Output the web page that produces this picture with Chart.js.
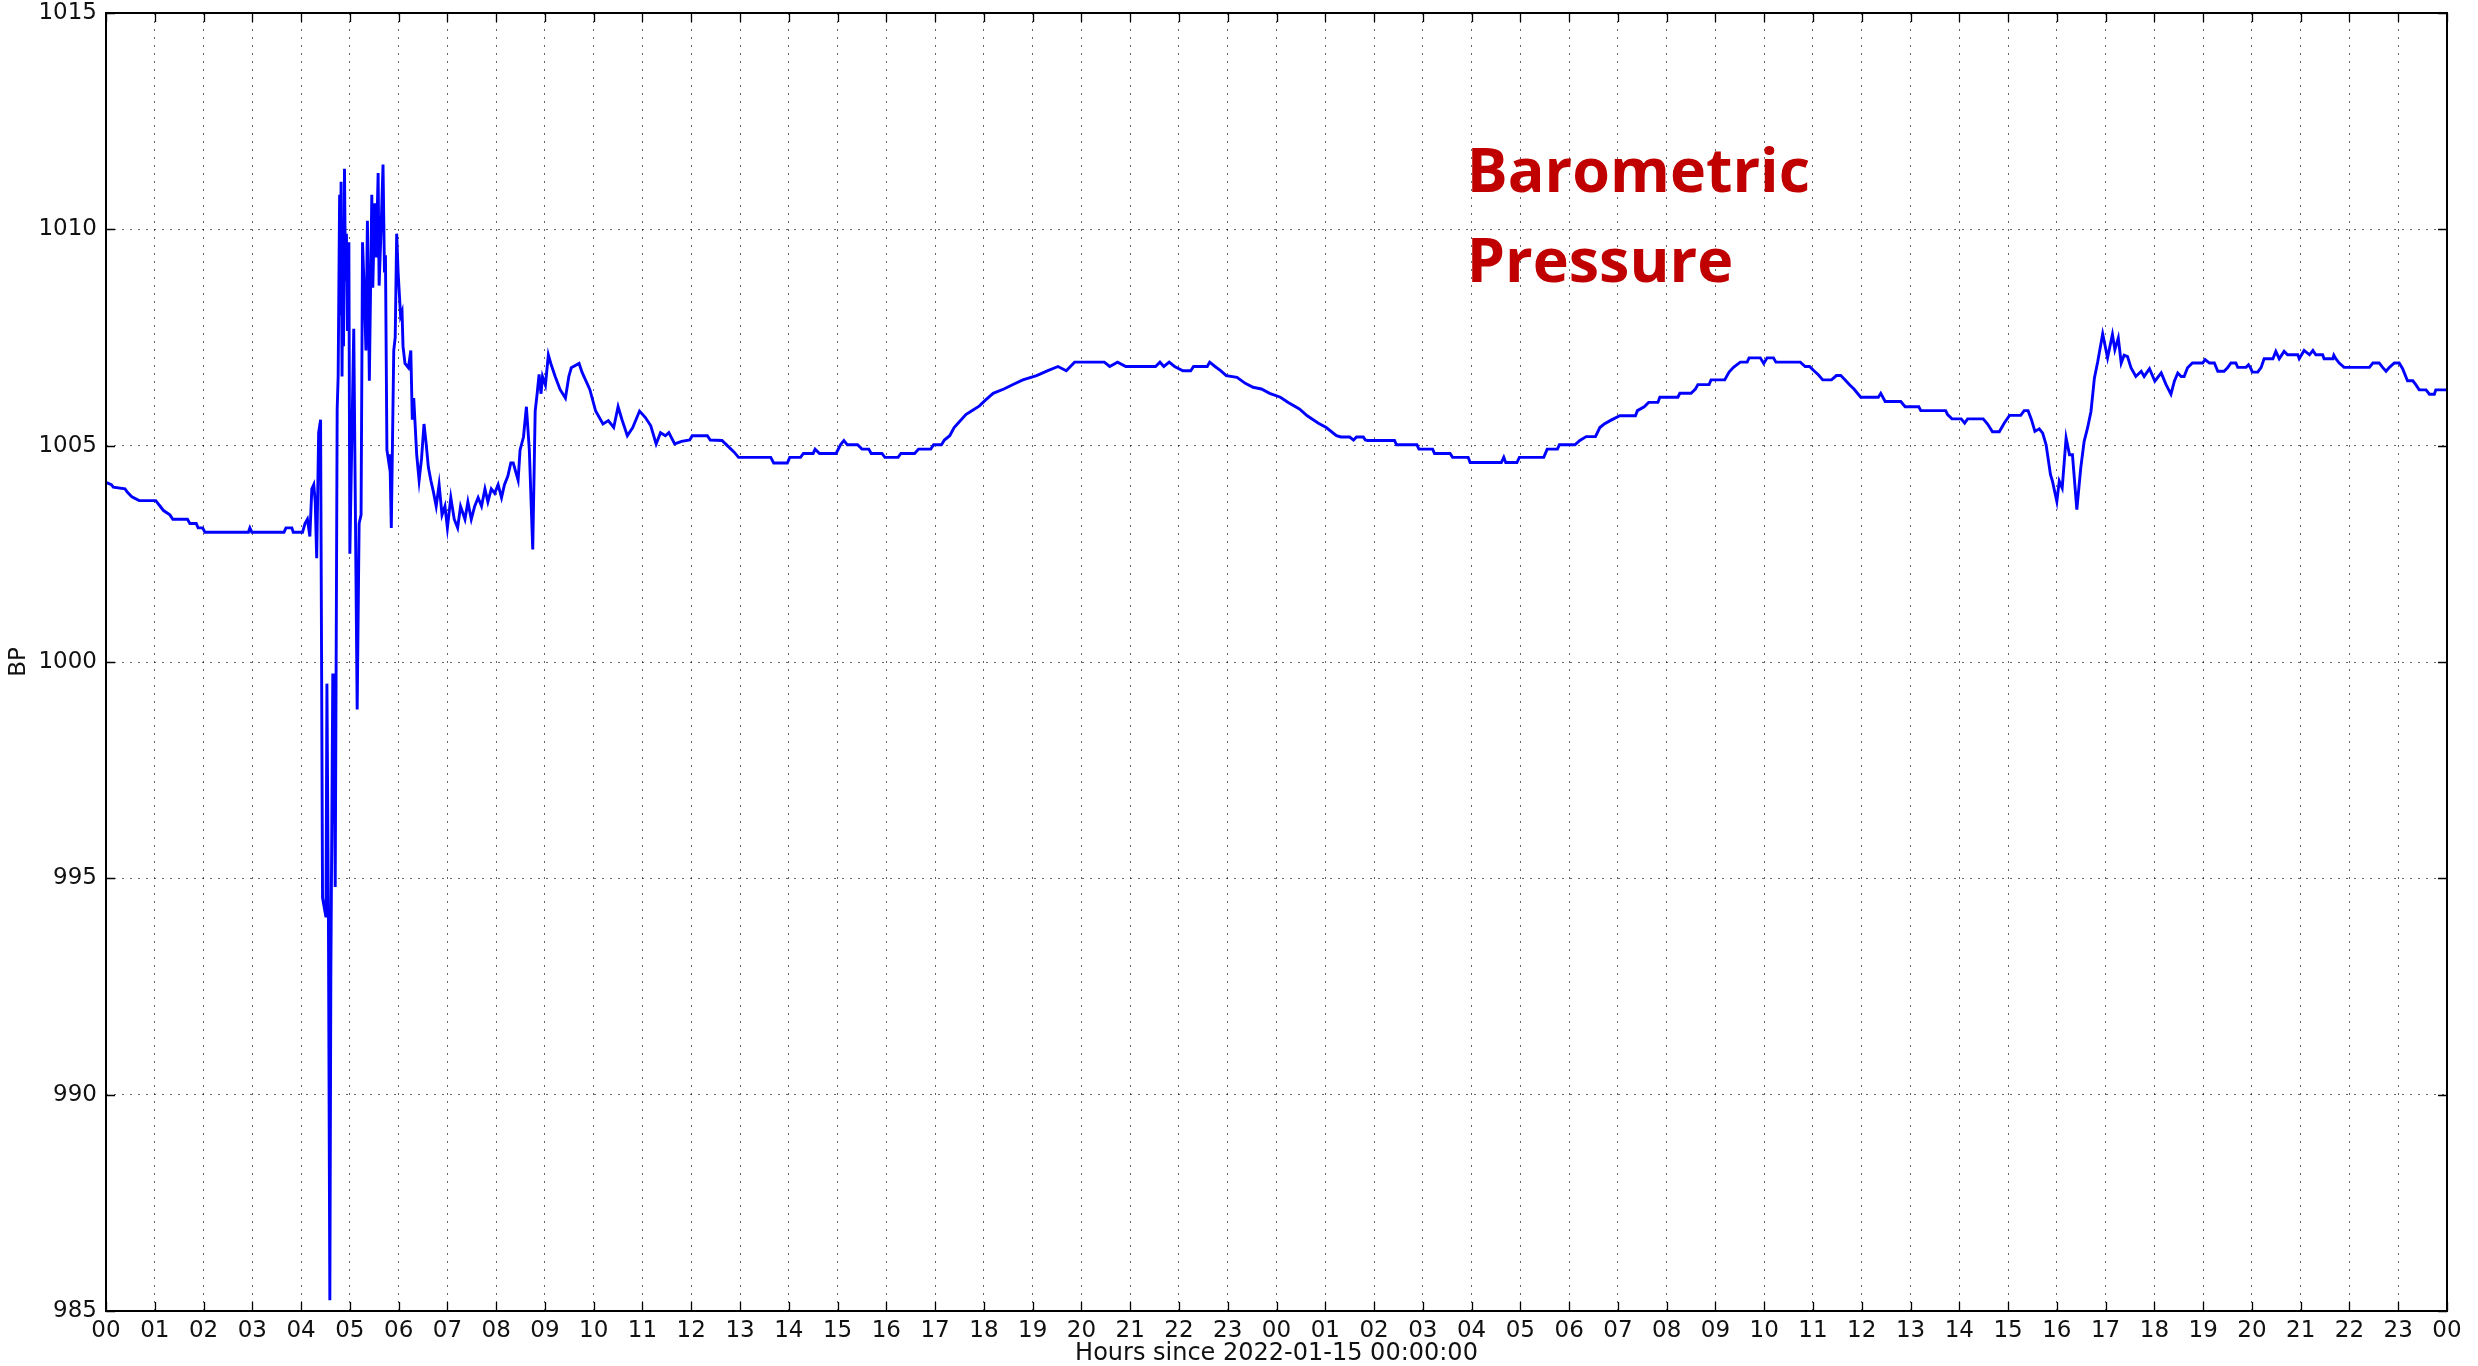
<!DOCTYPE html>
<html>
<head>
<meta charset="utf-8">
<script src="https://cdn.jsdelivr.net/npm/chart.js@4.4.1/dist/chart.umd.min.js"></script>
<style>
  html, body { margin: 0; padding: 0; background: #fff; }
  #wrap { width: 2478px; height: 1366px; }
</style>
</head>
<body>
<div id="wrap"><canvas id="bp" width="2478" height="1366"></canvas></div>
<script>
// hours since 2022-01-15 00:00:00
var hours = [
  0.00, 0.11, 0.15, 0.39, 0.44, 0.53, 0.68, 1.02, 1.11, 1.18, 1.31, 1.37, 1.67, 1.72, 1.85, 1.89, 1.98, 2.03,
  2.92, 2.95, 2.99, 3.65, 3.69, 3.81, 3.84, 4.03, 4.08, 4.13, 4.18, 4.22, 4.26, 4.29, 4.32, 4.36, 4.40,
  4.44, 4.51, 4.53, 4.56, 4.59, 4.61, 4.65, 4.67, 4.70, 4.74, 4.76, 4.79, 4.80, 4.82, 4.84, 4.86, 4.87,
  4.89, 4.91, 4.93, 4.95, 4.98, 5.00, 5.08, 5.15, 5.19, 5.23, 5.26, 5.30, 5.33, 5.36, 5.40, 5.45, 5.47,
  5.51, 5.54, 5.58, 5.60, 5.64, 5.68, 5.71, 5.73, 5.76, 5.80, 5.82, 5.85, 5.90, 5.93, 5.96, 5.99, 6.04,
  6.07, 6.09, 6.13, 6.20, 6.25, 6.28, 6.31, 6.37, 6.42, 6.47, 6.52, 6.56, 6.61, 6.66, 6.71, 6.77, 6.83,
  6.89, 6.95, 7.00, 7.07, 7.14, 7.21, 7.27, 7.36, 7.42, 7.49, 7.56, 7.63, 7.70, 7.77, 7.83, 7.90, 7.97,
  8.04, 8.11, 8.17, 8.24, 8.30, 8.35, 8.40, 8.45, 8.49, 8.56, 8.62, 8.68, 8.75, 8.80, 8.84, 8.88, 8.92,
  8.95, 9.01, 9.07, 9.12, 9.21, 9.31, 9.42, 9.49, 9.54, 9.70, 9.76, 9.92, 10.04, 10.19, 10.30, 10.41,
  10.50, 10.58, 10.69, 10.80, 10.94, 11.06, 11.17, 11.28, 11.37, 11.47, 11.54, 11.66, 11.80, 11.97,
  12.02, 12.33, 12.39, 12.63, 12.74, 12.88, 12.97, 13.63, 13.69, 13.97, 14.02, 14.24, 14.30, 14.50,
  14.54, 14.63, 14.97, 15.06, 15.13, 15.20, 15.41, 15.50, 15.64, 15.69, 15.91, 15.97, 16.24, 16.30,
  16.58, 16.66, 16.91, 16.97, 17.13, 17.19, 17.30, 17.39, 17.47, 17.63, 17.77, 17.91, 18.02, 18.19,
  18.41, 18.63, 18.80, 19.08, 19.30, 19.52, 19.69, 19.86, 20.47, 20.58, 20.74, 20.91, 21.52, 21.61,
  21.69, 21.80, 21.91, 22.08, 22.24, 22.30, 22.58, 22.63, 22.74, 22.86, 22.97, 23.19, 23.36, 23.52,
  23.69, 23.86, 24.08, 24.24, 24.47, 24.63, 24.86, 25.02, 25.23, 25.32, 25.50, 25.58, 25.64, 25.78,
  25.82, 25.87, 26.42, 26.46, 26.88, 26.92, 27.20, 27.24, 27.56, 27.61, 27.93, 27.97, 28.61, 28.66,
  28.70, 28.93, 28.98, 29.48, 29.55, 29.76, 29.80, 30.12, 30.22, 30.35, 30.54, 30.63, 30.72, 30.86,
  31.04, 31.36, 31.40, 31.54, 31.63, 31.82, 31.86, 32.23, 32.27, 32.50, 32.59, 32.64, 32.87, 32.91,
  33.19, 33.28, 33.37, 33.51, 33.65, 33.69, 33.92, 33.99, 34.06, 34.19, 34.24, 34.74, 34.84, 34.93,
  35.02, 35.11, 35.20, 35.38, 35.48, 35.57, 35.66, 35.75, 35.84, 35.98, 36.34, 36.39, 36.48, 36.80,
  36.89, 37.17, 37.21, 37.72, 37.76, 37.85, 38.04, 38.11, 38.17, 38.49, 38.58, 38.68, 38.82, 38.92,
  39.03, 39.26, 39.33, 39.41, 39.48, 39.55, 39.64, 39.71, 39.78, 39.87, 39.91, 40.00, 40.05, 40.11,
  40.19, 40.26, 40.32, 40.41, 40.49, 40.56, 40.63, 40.70, 40.77, 40.84, 40.94, 41.04, 41.14, 41.19,
  41.26, 41.32, 41.38, 41.45, 41.52, 41.62, 41.73, 41.79, 41.90, 42.01, 42.14, 42.24, 42.34, 42.41,
  42.48, 42.55, 42.61, 42.68, 42.78, 42.99, 43.04, 43.13, 43.23, 43.30, 43.43, 43.50, 43.57, 43.67,
  43.71, 43.88, 43.93, 43.97, 44.01, 44.12, 44.19, 44.25, 44.43, 44.49, 44.56, 44.66, 44.73, 44.94,
  44.97, 45.07, 45.18, 45.25, 45.31, 45.45, 45.48, 45.66, 45.68, 45.72, 45.79, 45.89, 46.41, 46.48,
  46.61, 46.68, 46.75, 46.82, 46.92, 47.02, 47.09, 47.19, 47.30, 47.36, 47.43, 47.57, 47.64, 47.74,
  47.77, 48.00
];

// barometric pressure, hPa
var bp = [
  1004.15, 1004.10, 1004.04, 1004.00, 1003.92, 1003.82, 1003.73, 1003.73, 1003.60, 1003.50, 1003.40, 1003.30, 1003.30, 1003.20, 1003.20, 1003.10, 1003.10, 1003.00,
  1003.00, 1003.10, 1003.00, 1003.00, 1003.10, 1003.10, 1003.00, 1003.00, 1003.20, 1003.30, 1002.90, 1004.00, 1004.10, 1003.70, 1002.40, 1005.30, 1005.60,
  994.55, 994.10, 999.50, 994.20, 985.25, 992.70, 999.70, 999.70, 994.80, 1005.84, 1006.60, 1010.80, 1008.00, 1011.10, 1006.60, 1010.00, 1007.30,
  1011.40, 1008.80, 1009.90, 1007.65, 1009.70, 1002.50, 1007.70, 998.90, 1003.20, 1003.40, 1009.70, 1008.40, 1007.20, 1010.20, 1006.50, 1010.80, 1008.65,
  1010.60, 1009.35, 1011.30, 1008.70, 1010.00, 1011.50, 1009.00, 1009.40, 1004.90, 1004.60, 1004.80, 1003.10, 1007.20, 1007.50, 1009.90, 1009.00, 1008.00,
  1008.10, 1007.30, 1006.90, 1006.80, 1007.20, 1005.60, 1006.10, 1004.80, 1004.20, 1004.70, 1005.50, 1005.10, 1004.50, 1004.20, 1003.95, 1003.60, 1004.10,
  1003.40, 1003.60, 1003.10, 1003.80, 1003.30, 1003.10, 1003.60, 1003.30, 1003.70, 1003.30, 1003.60, 1003.80, 1003.60, 1004.00, 1003.70, 1004.00, 1003.90,
  1004.10, 1003.80, 1004.10, 1004.30, 1004.60, 1004.60, 1004.40, 1004.20, 1004.90, 1005.20, 1005.90, 1004.90, 1002.60, 1005.80, 1006.20, 1006.65, 1006.20,
  1006.60, 1006.40, 1007.10, 1006.90, 1006.60, 1006.30, 1006.10, 1006.60, 1006.80, 1006.90, 1006.70, 1006.30, 1005.80, 1005.50, 1005.58, 1005.42,
  1005.90, 1005.60, 1005.23, 1005.42, 1005.80, 1005.65, 1005.46, 1005.04, 1005.30, 1005.23, 1005.30, 1005.04, 1005.10, 1005.13,
  1005.23, 1005.23, 1005.13, 1005.12, 1005.00, 1004.85, 1004.73, 1004.73, 1004.60, 1004.60, 1004.73, 1004.73, 1004.82, 1004.82,
  1004.92, 1004.82, 1004.82, 1005.02, 1005.12, 1005.02, 1005.02, 1004.92, 1004.92, 1004.82, 1004.82, 1004.73, 1004.73, 1004.82,
  1004.82, 1004.92, 1004.92, 1005.02, 1005.02, 1005.13, 1005.23, 1005.42, 1005.52, 1005.72, 1005.82, 1005.92, 1006.04, 1006.21,
  1006.31, 1006.43, 1006.52, 1006.62, 1006.73, 1006.83, 1006.73, 1006.93, 1006.93, 1006.83, 1006.93, 1006.83, 1006.83, 1006.93,
  1006.83, 1006.93, 1006.83, 1006.73, 1006.73, 1006.83, 1006.83, 1006.93, 1006.83, 1006.73, 1006.62, 1006.58, 1006.44, 1006.35,
  1006.31, 1006.21, 1006.12, 1006.00, 1005.85, 1005.69, 1005.52, 1005.42, 1005.23, 1005.20, 1005.20, 1005.13, 1005.20, 1005.20,
  1005.13, 1005.12, 1005.12, 1005.02, 1005.02, 1004.92, 1004.92, 1004.82, 1004.82, 1004.73, 1004.73, 1004.61, 1004.61, 1004.73,
  1004.61, 1004.61, 1004.73, 1004.73, 1004.92, 1004.92, 1005.02, 1005.02, 1005.12, 1005.21, 1005.21, 1005.42, 1005.50, 1005.59,
  1005.69, 1005.69, 1005.81, 1005.90, 1006.00, 1006.00, 1006.12, 1006.12, 1006.21, 1006.21, 1006.31, 1006.41, 1006.41, 1006.52,
  1006.52, 1006.70, 1006.81, 1006.93, 1006.93, 1007.03, 1007.03, 1006.90, 1007.03, 1007.03, 1006.93, 1006.93, 1006.83, 1006.83,
  1006.73, 1006.64, 1006.52, 1006.52, 1006.62, 1006.62, 1006.52, 1006.41, 1006.31, 1006.12, 1006.12, 1006.21, 1006.02, 1006.02,
  1005.90, 1005.90, 1005.81, 1005.81, 1005.72, 1005.62, 1005.62, 1005.52, 1005.62, 1005.62, 1005.50, 1005.32, 1005.32, 1005.52,
  1005.70, 1005.70, 1005.81, 1005.81, 1005.60, 1005.33, 1005.39, 1005.29, 1005.02, 1004.33, 1004.18, 1003.71, 1004.18, 1004.02,
  1005.18, 1004.79, 1004.79, 1003.52, 1004.48, 1005.10, 1005.41, 1005.79, 1006.56, 1006.95, 1007.58, 1007.03, 1007.57, 1007.22,
  1007.49, 1006.91, 1007.09, 1007.06, 1006.80, 1006.60, 1006.72, 1006.60, 1006.78, 1006.49, 1006.68, 1006.41, 1006.19, 1006.49,
  1006.68, 1006.60, 1006.60, 1006.80, 1006.91, 1006.91, 1006.99, 1006.91, 1006.91, 1006.72, 1006.72, 1006.80, 1006.91, 1006.91,
  1006.81, 1006.81, 1006.87, 1006.80, 1006.70, 1006.70, 1006.81, 1007.01, 1007.01, 1007.18, 1007.01, 1007.18, 1007.10, 1007.10,
  1007.01, 1007.20, 1007.10, 1007.20, 1007.10, 1007.10, 1007.01, 1007.01, 1007.09, 1007.01, 1006.91, 1006.81, 1006.81, 1006.91,
  1006.91, 1006.81, 1006.72, 1006.81, 1006.91, 1006.91, 1006.78, 1006.50, 1006.50, 1006.41, 1006.29, 1006.29, 1006.19, 1006.19,
  1006.29, 1006.29
];

var yTicks = [985, 990, 995, 1000, 1005, 1010, 1015];
var noteLines = ['Barometric', 'Pressure'];
var noteHour = 27.9;
var noteBP = [1010.86, 1008.78];

var points = hours.map(function (h, i) { return { x: h, y: bp[i] }; });

function pad2(v) {
  var h = Math.round(v) % 24;
  return (h < 10 ? '0' : '') + h;
}

// matplotlib style frame with inward ticks on all four sides, plus the red note
var frameTicks = {
  id: 'frameTicks',
  afterDraw: function (chart) {
    var c = chart.ctx, a = chart.chartArea;
    var xs = chart.scales.x, ys = chart.scales.y;
    var len = 9;
    c.save();
    c.strokeStyle = '#000';
    c.lineWidth = 1.3;
    c.beginPath();
    xs.ticks.forEach(function (t) {
      var px = Math.round(xs.getPixelForValue(t.value)) + 0.5;
      c.moveTo(px, a.bottom); c.lineTo(px, a.bottom - len);
      c.moveTo(px, a.top); c.lineTo(px, a.top + len);
    });
    ys.ticks.forEach(function (t) {
      var py = Math.round(ys.getPixelForValue(t.value)) + 0.5;
      c.moveTo(a.left, py); c.lineTo(a.left + len, py);
      c.moveTo(a.right, py); c.lineTo(a.right - len, py);
    });
    c.stroke();
    c.lineWidth = 2;
    c.strokeRect(a.left, a.top, a.right - a.left, a.bottom - a.top);

    c.fillStyle = '#C00000';
    c.font = 'bold 61px "Open Sans"';
    c.textAlign = 'left';
    c.textBaseline = 'alphabetic';
    noteLines.forEach(function (txt, i) {
      c.fillText(txt, xs.getPixelForValue(noteHour), ys.getPixelForValue(noteBP[i]));
    });
    c.restore();
  }
};

var ctx = document.getElementById('bp');
var chart = new Chart(ctx, {
  type: 'line',
  data: {
    datasets: [{
      label: 'BP',
      data: points,
      borderColor: '#0000ff',
      borderWidth: 2.9,
      pointRadius: 0,
      tension: 0,
      fill: false
    }]
  },
  options: {
    responsive: false,
    animation: false,
    devicePixelRatio: 1,
    layout: { padding: { left: 0, top: 13, right: 31, bottom: 0 } },
    plugins: {
      legend: { display: false },
      title: { display: false },
      tooltip: { enabled: false }
    },
    scales: {
      x: {
        type: 'linear',
        min: 0,
        max: 48,
        afterFit: function (s) { s.height = 55; },
        grid: { color: 'rgba(0,0,0,0.6)', lineWidth: 1, drawTicks: false },
        border: { display: false, dash: [2, 6] },
        ticks: {
          stepSize: 1,
          autoSkip: false,
          maxRotation: 0,
          padding: 6,
          color: '#111',
          font: { family: 'DejaVu Sans', size: 23 },
          callback: function (v) { return pad2(v); }
        },
        title: {
          display: true,
          text: 'Hours since 2022-01-15 00:00:00',
          color: '#111',
          font: { family: 'DejaVu Sans', size: 24 },
          padding: { top: 0, bottom: -2 }
        }
      },
      y: {
        min: 985,
        max: 1015,
        afterFit: function (s) { s.width = 106; },
        afterBuildTicks: function (s) { s.ticks = yTicks.map(function (v) { return { value: v }; }); },
        grid: { color: 'rgba(0,0,0,0.6)', lineWidth: 1, drawTicks: false },
        border: { display: false, dash: [2, 6] },
        ticks: {
          padding: 9,
          color: '#111',
          font: { family: 'DejaVu Sans', size: 23, lineHeight: 0.3 },
          callback: function (v) { return String(v); }
        },
        title: {
          display: true,
          text: 'BP',
          color: '#111',
          font: { family: 'DejaVu Sans', size: 23 },
          padding: { top: 5, bottom: 0 }
        }
      }
    }
  },
  plugins: [frameTicks]
});
</script>
</body>
</html>
